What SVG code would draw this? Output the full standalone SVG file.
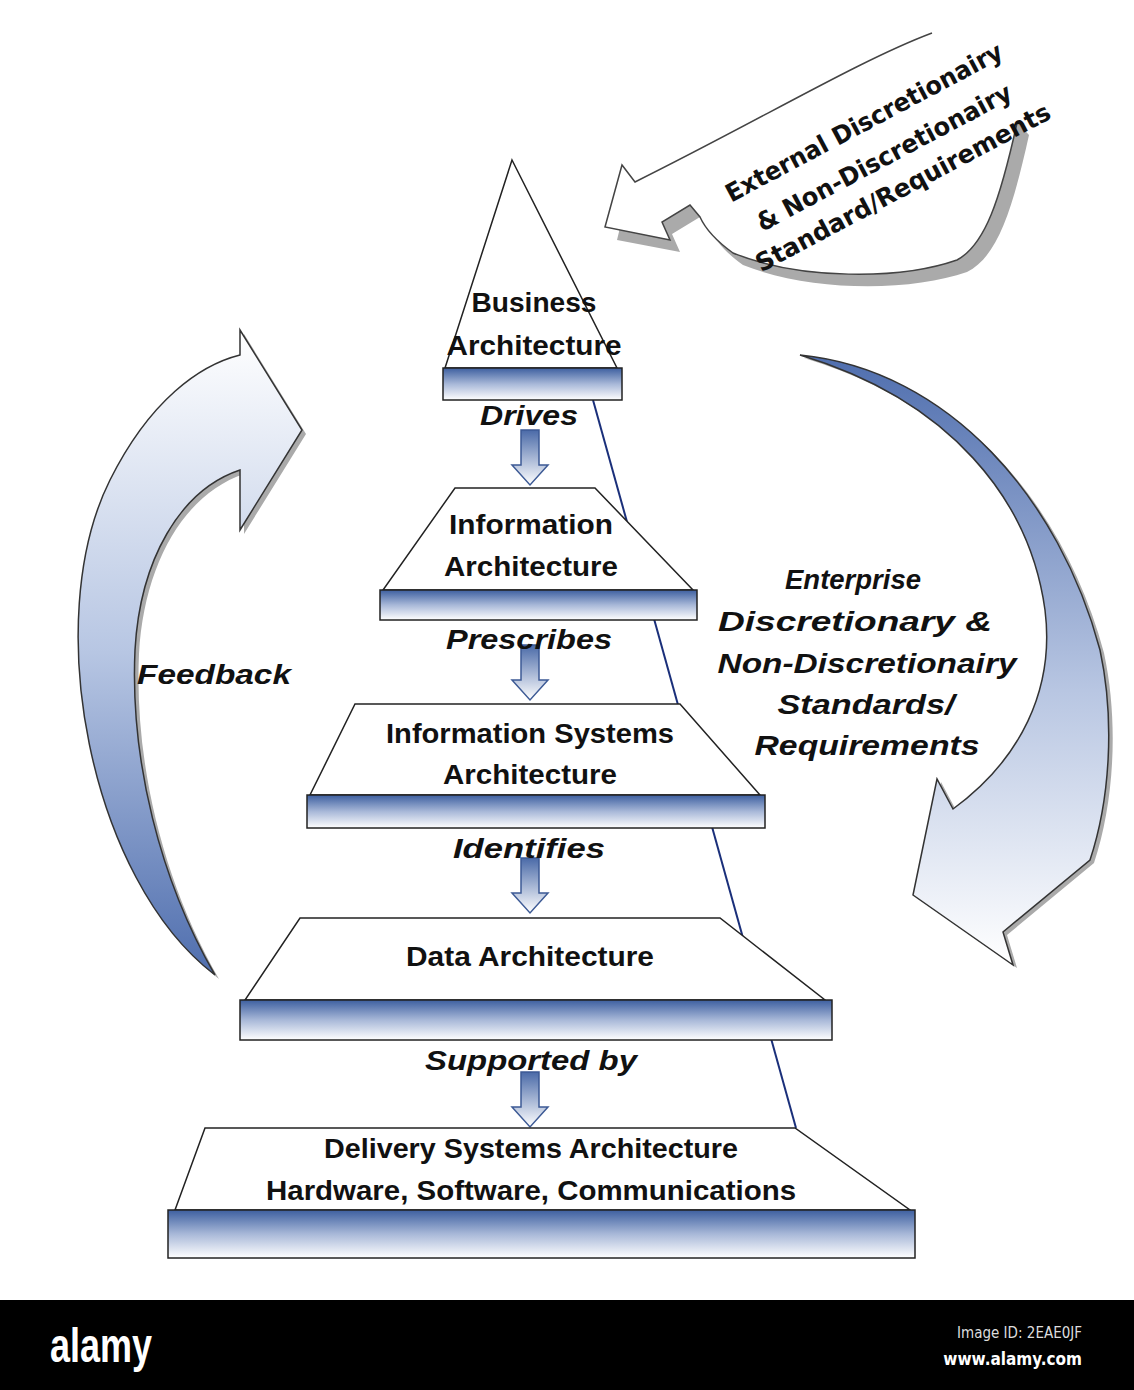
<svg xmlns="http://www.w3.org/2000/svg" width="1134" height="1390" viewBox="0 0 1134 1390">
<defs>
<linearGradient id="band" x1="0" y1="0" x2="0" y2="1"><stop offset="0" stop-color="#3d5fa0"/><stop offset="0.5" stop-color="#a8b8d8"/><stop offset="1" stop-color="#ffffff"/></linearGradient>
<linearGradient id="down" x1="0" y1="0" x2="0" y2="1"><stop offset="0" stop-color="#4a6aa8"/><stop offset="1" stop-color="#ffffff"/></linearGradient>
<linearGradient id="leftg" x1="0" y1="0" x2="0" y2="1"><stop offset="0" stop-color="#ffffff"/><stop offset="0.5" stop-color="#b7c6e3"/><stop offset="1" stop-color="#4f6eae"/></linearGradient>
<linearGradient id="rightg" x1="0" y1="0" x2="0" y2="1"><stop offset="0" stop-color="#4f6eae"/><stop offset="0.55" stop-color="#b8c6e2"/><stop offset="1" stop-color="#ffffff"/></linearGradient>
<g id="dn"><path d="M-9,0 H9 V35 H18 L0,55 L-18,35 H-9 Z" fill="url(#down)" stroke="#3d5a95" stroke-width="1.5"/></g>
<path id="rarrow" d="M800,355 C950,370 1060,500 1100,650 C1115,720 1110,800 1090,860 L1003,932 L1013,965 L913,895 L937,779 L953,809 C1020,760 1055,690 1045,610 C1030,500 950,400 800,355 Z"/>
</defs>
<style>
.tier{fill:#fff;stroke:#222;stroke-width:1.5}
.band{fill:url(#band);stroke:#222;stroke-width:1.5}
.t{font-family:"Liberation Sans",sans-serif;font-weight:bold;font-size:28px;text-anchor:middle;fill:#111}
.i{font-family:"Liberation Sans",sans-serif;font-weight:bold;font-style:italic;font-size:28px;text-anchor:middle;fill:#111}
.c{font-family:"DejaVu Sans",sans-serif;font-weight:bold;font-size:25px;text-anchor:middle;fill:#111}
</style>
<rect width="1134" height="1390" fill="#fff"/>
<g id="connectors">
<line x1="593" y1="400" x2="796" y2="1128" stroke="#1a2f7a" stroke-width="2"/>
<g id="feedback-arrow">
<path d="M219,979 C94,884 44,624 114,484 C154,404 204,369 244,359 L244,334 L306,434 L244,534 L244,474 C184,494 144,564 139,654 C134,764 164,884 219,979 Z" fill="#aaa"/>
<path d="M215,975 C90,880 40,620 110,480 C150,400 200,365 240,355 L240,330 L302,430 L240,530 L240,470 C180,490 140,560 135,650 C130,760 160,880 215,975 Z" fill="url(#leftg)" stroke="#333" stroke-width="1.5"/></g>
<g id="enterprise-arrow">
<use href="#rarrow" x="4" y="3" fill="#aaa"/>
<use href="#rarrow" fill="url(#rightg)" stroke="#333" stroke-width="1.5"/></g>
<use href="#dn" x="530" y="430"/>
<use href="#dn" x="530" y="645"/>
<use href="#dn" x="530" y="858"/>
<use href="#dn" x="530" y="1072"/>
</g>
<g id="external-callout">
<path d="M617,240 L632,178 L645,195 L945,45 L1029,135 C1012,212 997,257 967,272 C910,292 810,292 743,265 C725,252 715,240 710,229 L700,217 L672,234 L680,252 Z" fill="#aaa"/>
<path d="M605,227 L622,165 L635,182 C760,120 860,60 932,33 L1040,60 L1017,123 C1000,200 985,245 957,260 C900,280 800,280 733,253 C715,240 705,228 700,217 L690,205 L662,222 L670,240 Z" fill="#fff"/>
<path d="M932,33 C860,60 760,120 635,182 L622,165 L605,227 L670,240 L662,222 L690,205 L700,217 C705,228 715,240 733,253 C800,280 900,280 957,260 C985,245 1000,200 1017,123" fill="none" stroke="#444" stroke-width="1.5"/>
<text class="c" transform="translate(868,130) rotate(-28)" textLength="310" lengthAdjust="spacingAndGlyphs">External Discretionairy</text>
<text class="c" transform="translate(888,165) rotate(-28)" textLength="285" lengthAdjust="spacingAndGlyphs">&amp; Non-Discretionairy</text>
<text class="c" transform="translate(907,195) rotate(-28)" textLength="330" lengthAdjust="spacingAndGlyphs">Standard/Requirements</text>
</g>
<g id="business">
<path class="tier" d="M512,160 L617,368 L445,368 Z"/>
<rect class="band" x="443" y="368" width="179" height="32"/>
<text class="t" x="534" y="312" textLength="125" lengthAdjust="spacingAndGlyphs">Business</text>
<text class="t" x="534" y="355" textLength="175" lengthAdjust="spacingAndGlyphs">Architecture</text>
</g>
<g id="information">
<path class="tier" d="M455,488 L595,488 L693,590 L383,590 Z"/>
<rect class="band" x="380" y="590" width="317" height="30"/>
<text class="t" x="531" y="534" textLength="164" lengthAdjust="spacingAndGlyphs">Information</text>
<text class="t" x="531" y="576" textLength="174" lengthAdjust="spacingAndGlyphs">Architecture</text>
</g>
<g id="infosys">
<path class="tier" d="M355,704 L680,704 L760,795 L310,795 Z"/>
<rect class="band" x="307" y="795" width="458" height="33"/>
<text class="t" x="530" y="743" textLength="288" lengthAdjust="spacingAndGlyphs">Information Systems</text>
<text class="t" x="530" y="784" textLength="174" lengthAdjust="spacingAndGlyphs">Architecture</text>
</g>
<g id="data">
<path class="tier" d="M300,918 L720,918 L825,1000 L245,1000 Z"/>
<rect class="band" x="240" y="1000" width="592" height="40"/>
<text class="t" x="530" y="966" textLength="248" lengthAdjust="spacingAndGlyphs">Data Architecture</text>
</g>
<g id="delivery">
<path class="tier" d="M205,1128 L795,1128 L910,1210 L175,1210 Z"/>
<rect class="band" x="168" y="1210" width="747" height="48"/>
<text class="t" x="531" y="1158" textLength="414" lengthAdjust="spacingAndGlyphs">Delivery Systems Architecture</text>
<text class="t" x="531" y="1200" textLength="530" lengthAdjust="spacingAndGlyphs">Hardware, Software, Communications</text>
</g>
<g id="labels">
<text class="i" x="529" y="425" textLength="98" lengthAdjust="spacingAndGlyphs">Drives</text>
<text class="i" x="529" y="649" textLength="166" lengthAdjust="spacingAndGlyphs">Prescribes</text>
<text class="i" x="529" y="858" textLength="152" lengthAdjust="spacingAndGlyphs">Identifies</text>
<text class="i" x="531" y="1070" textLength="212" lengthAdjust="spacingAndGlyphs">Supported by</text>
<text class="i" x="214" y="684" textLength="154" lengthAdjust="spacingAndGlyphs">Feedback</text>
<text class="i" x="853" y="589" textLength="136" lengthAdjust="spacingAndGlyphs">Enterprise</text>
<text class="i" x="855" y="631" textLength="274" lengthAdjust="spacingAndGlyphs">Discretionary &amp;</text>
<text class="i" x="867" y="673" textLength="299" lengthAdjust="spacingAndGlyphs">Non-Discretionairy</text>
<text class="i" x="866" y="714" textLength="177" lengthAdjust="spacingAndGlyphs">Standards/</text>
<text class="i" x="867" y="755" textLength="225" lengthAdjust="spacingAndGlyphs">Requirements</text>
</g>
<g id="footer">
<rect x="0" y="1300" width="1134" height="90" fill="#000"/>
<text x="50" y="1362" font-family="Liberation Sans,sans-serif" font-weight="bold" font-size="48" fill="#fff" textLength="102" lengthAdjust="spacingAndGlyphs">alamy</text>
<text x="1082" y="1338" font-family="DejaVu Sans Condensed,DejaVu Sans,sans-serif" font-size="15" fill="#ddd" text-anchor="end">Image ID: 2EAE0JF</text>
<text x="1082" y="1365" font-family="DejaVu Sans Condensed,DejaVu Sans,sans-serif" font-weight="bold" font-size="17" fill="#fff" text-anchor="end">www.alamy.com</text>
</g>
</svg>
